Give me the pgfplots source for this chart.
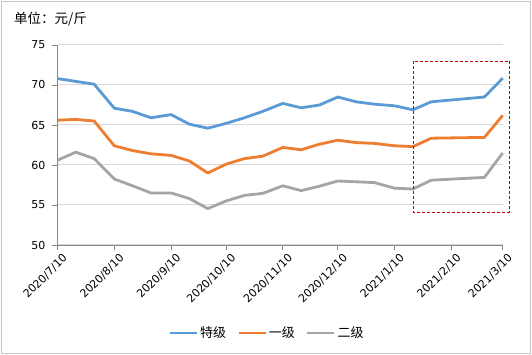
\documentclass[border=0pt]{standalone}
\usepackage{pgfplots}
\pgfplotsset{compat=1.18}
\usepackage{fontspec}
\setmainfont{DejaVu Sans}
\newfontfamily\cjk{Noto Sans CJK SC}
\definecolor{sblue}{HTML}{5B9BD5}
\definecolor{sorange}{HTML}{ED7D31}
\definecolor{sgray}{HTML}{A5A5A5}
\definecolor{axgray}{HTML}{868686}
\definecolor{gridgray}{HTML}{D9D9D9}
\definecolor{boxred}{HTML}{C00000}
\begin{document}
\begin{tikzpicture}
\useasboundingbox (0pt,0pt) rectangle (532pt,355pt);
\draw[color=gray!45, line width=0.8pt] (1pt,1.5pt) rectangle (530pt,354pt);
\node[anchor=west, inner sep=0pt, font=\cjk\fontsize{13.5}{15}\selectfont] at (14pt,336pt) {单位：元/斤};
\begin{axis}[
  at={(57.5pt,110pt)}, anchor=south west,
  scale only axis, width=445.2pt, height=200pt,
  xmin=0, xmax=243, ymin=50, ymax=75,
  clip=false,
  axis lines*=left,
  axis line style={-, draw=axgray, line width=0.8pt},
  tick align=outside,
  major tick length=5pt,
  tick style={draw=axgray, line width=0.8pt},
  xtick={0,31,62,92,123,153,184,215,243},
  xticklabels={2020/7/10,2020/8/10,2020/9/10,2020/10/10,2020/11/10,2020/12/10,2021/1/10,2021/2/10,2021/3/10},
  ytick={50,55,60,65,70,75},
  ymajorgrids,
  grid style={draw=gridgray, line width=1pt},
  /pgf/number format/assume math mode=true,
  tick label style={font=\fontsize{11}{13}\selectfont, text=black},
  xticklabel style={rotate=45, anchor=east, inner sep=1pt, yshift=-10pt, xshift=2pt},
  yticklabel style={inner sep=2pt, xshift=-5pt},
  legend columns=3,
  legend style={at={(axis description cs:0.4706,-0.44)}, anchor=center, draw=none, fill=none,
    font=\cjk\fontsize{13}{15}\selectfont,
    /tikz/every even column/.append style={column sep=9pt},
    nodes={inner xsep=2pt}},
  legend image code/.code={\draw[#1] (0pt,0pt) -- (27pt,0pt);},
  every axis plot/.append style={line width=2.8pt, line join=round, no markers},
]
\addplot[color=sblue] coordinates {
(0,70.8) (10,70.45) (20,70.1) (31,67.1) (41,66.7) (51,65.9) (62,66.3) (72,65.1) (82,64.6)
(92,65.2) (102,65.9) (112,66.7) (123,67.7) (133,67.15) (143,67.5) (153,68.5) (163,67.9)
(173,67.6) (184,67.4) (194,66.9) (204,67.9) (233,68.5) (243,70.85)};
\addlegendentry{特级}
\addplot[color=sorange] coordinates {
(0,65.6) (10,65.7) (20,65.5) (31,62.4) (41,61.8) (51,61.4) (62,61.2) (72,60.5) (82,59.0)
(92,60.1) (102,60.8) (112,61.1) (123,62.2) (133,61.9) (143,62.6) (153,63.1) (163,62.8)
(173,62.7) (184,62.4) (194,62.3) (204,63.35) (233,63.45) (243,66.2)};
\addlegendentry{一级}
\addplot[color=sgray] coordinates {
(0,60.6) (10,61.6) (20,60.8) (31,58.25) (41,57.4) (51,56.5) (62,56.5) (72,55.8) (82,54.55)
(92,55.5) (102,56.2) (112,56.45) (123,57.4) (133,56.8) (143,57.35) (153,58.0) (163,57.9)
(173,57.8) (184,57.1) (194,57.0) (204,58.1) (233,58.45) (243,61.5)};
\addlegendentry{二级}
\draw[boxred, line width=0.9pt, dash pattern=on 3pt off 2pt] (axis cs:194.2,73) rectangle (axis cs:246.6,54.1);
\end{axis}
\end{tikzpicture}
\end{document}
